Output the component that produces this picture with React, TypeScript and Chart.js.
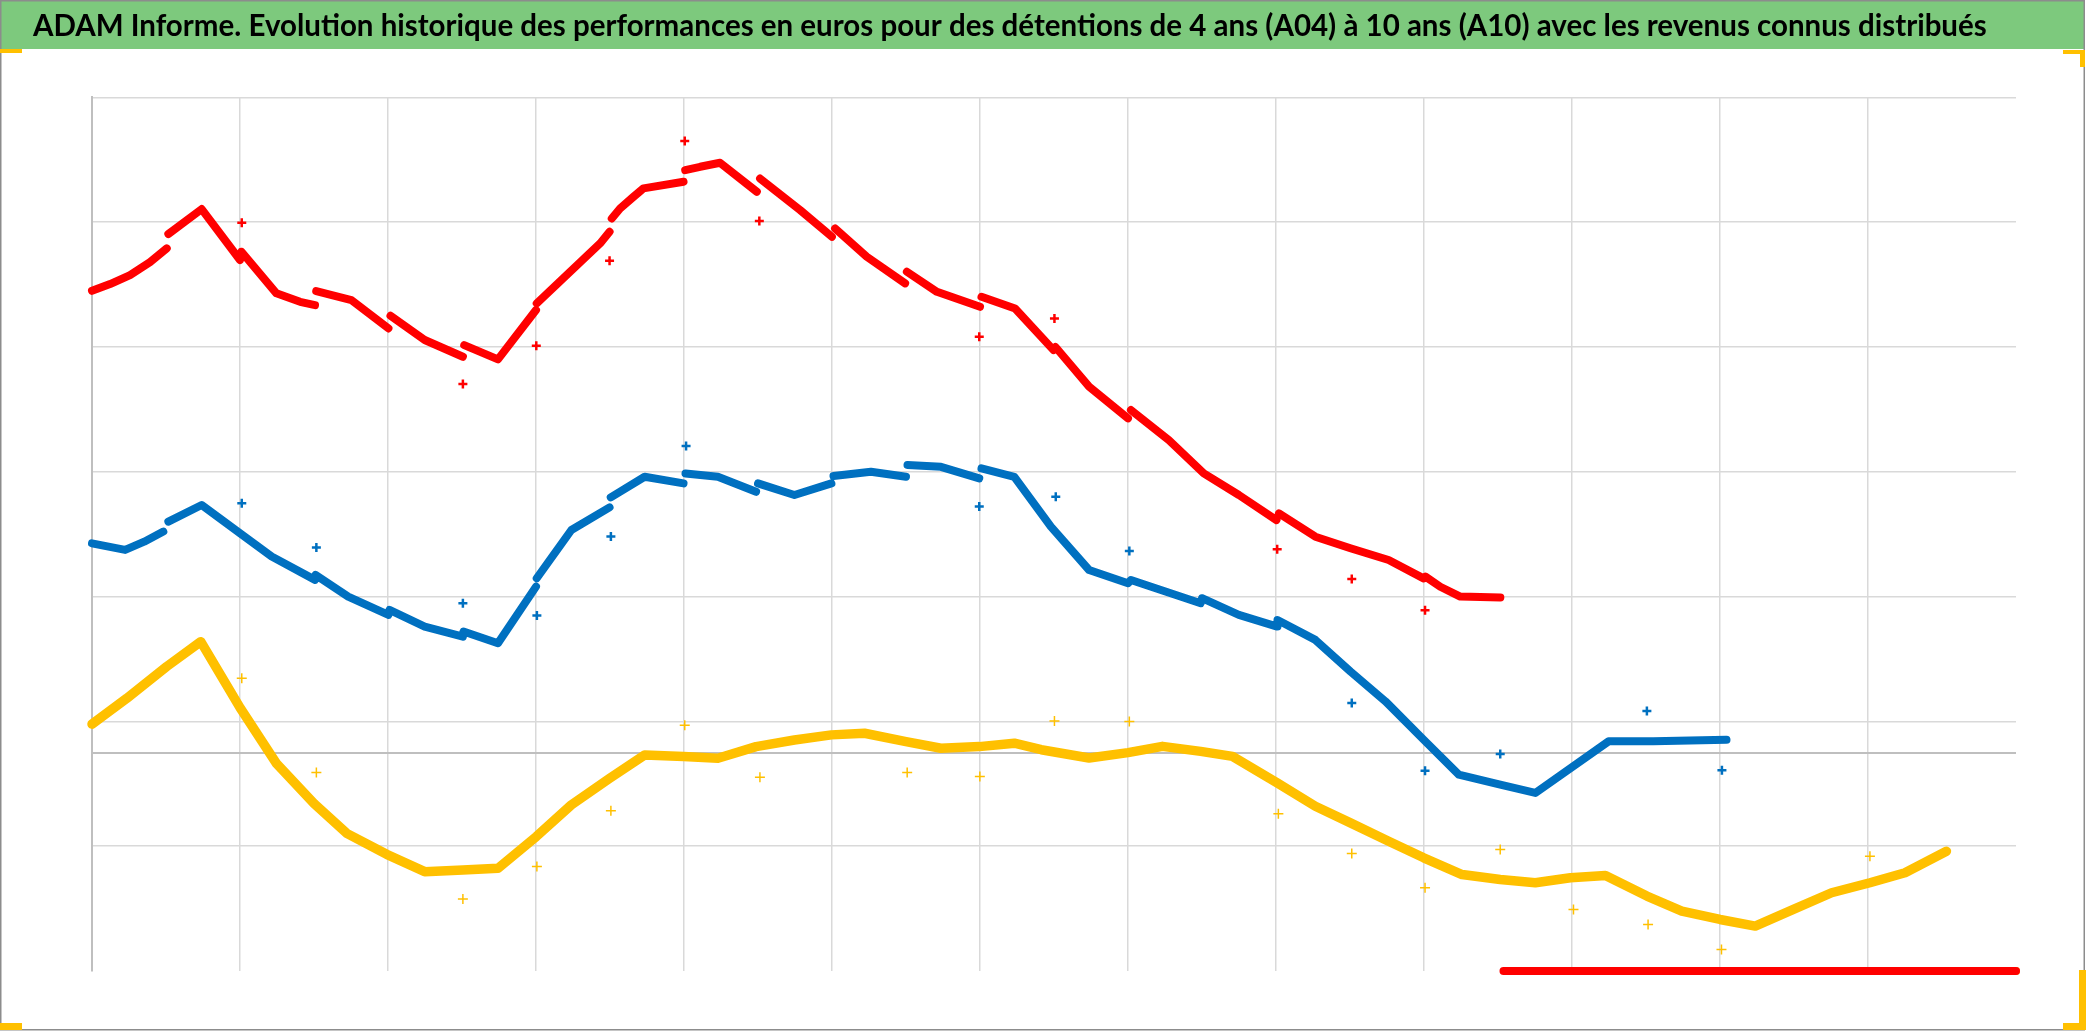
import React, { useEffect, useRef } from "react";
import { Chart, registerables } from "chart.js";

Chart.register(...registerables);

const TITLE =
  "ADAM Informe. Evolution historique des performances en euros pour des détentions de 4 ans (A04) à 10 ans (A10) avec les revenus connus distribués";

const X_MIN = 0;
const X_MAX = 13;
const Y_MIN = -1750;
const Y_MAX = 5250;
const X_GRID = [0, 1, 2, 3, 4, 5, 6, 7, 8, 9, 10, 11, 12, 13];
const Y_GRID = [-1750, -750, 0, 250, 1250, 2250, 3250, 4250, 5250];

// A10 (red) — dense daily values, null = break at a distribution date
const redLineX = [
  0, 0.122, 0.257, 0.392, 0.505, 0.51,
  0.516, 0.741, 1.0, 1.01, 1.246, 1.406, 1.507, 1.511,
  1.515, 1.753, 2.003, 2.01,
  2.017, 2.248, 2.506, 2.51,
  2.515, 2.743, 3.0, 3.002,
  3.005, 3.433, 3.497, 3.505,
  3.512, 3.568, 3.658, 3.726, 3.997, 4.0,
  4.008, 4.109, 4.244, 4.492, 4.503,
  4.514, 4.785, 4.999, 5.01,
  5.021, 5.235, 5.494, 5.5,
  5.506, 5.709, 6.0, 6.005,
  6.01, 6.237, 6.497, 6.503,
  6.51, 6.737, 7.0, 7.01,
  7.02, 7.276, 7.512, 7.749, 8.003, 8.01,
  8.02, 8.266, 8.503, 8.761, 8.997, 9.003,
  9.01, 9.11, 9.245, 9.516,
];
const redLineY = [
  3700, 3754, 3826, 3930, 4040, null,
  4155, 4355, 3947, 4013, 3680, 3612, 3586, null,
  3698, 3626, 3399, null,
  3500, 3306, 3172, null,
  3265, 3151, 3546, null,
  3600, 4080, 4173, null,
  4280, 4360, 4453, 4521, 4574, null,
  4667, 4694, 4726, 4494, null,
  4600, 4347, 4133, null,
  4200, 3973, 3760, null,
  3853, 3692, 3572, null,
  3652, 3559, 3225, null,
  3250, 2932, 2678, null,
  2745, 2504, 2237, 2064, 1863, null,
  1917, 1730, 1637, 1543, 1396, null,
  1410, 1329, 1250, 1243,
];
const redFloorX = [9.537, 13.0];
const redFloorY = [-1750, -1750];
const redPtsX = [1.012, 2.506, 3.002, 3.497, 4.005, 4.509, 5.995, 6.503, 8.008, 8.512, 9.007];
const redPtsY = [4246, 2953, 3260, 3941, 4900, 4259, 3332, 3479, 1629, 1391, 1141];

// A07 (blue)
const blueLineX = [
  0, 0.224, 0.353, 0.482, 0.5,
  0.516, 0.741, 1.0, 1.214, 1.507, 1.508,
  1.51, 1.731, 2.003, 2.006,
  2.01, 2.248, 2.506, 2.508,
  2.51, 2.743, 3.0, 3.003,
  3.005, 3.239, 3.497, 3.5,
  3.505, 3.734, 3.997, 4.003,
  4.01, 4.229, 4.487, 4.493,
  4.5, 4.746, 4.996, 5.003,
  5.01, 5.263, 5.5, 5.505,
  5.51, 5.736, 5.995, 6.003,
  6.01, 6.232, 6.479, 6.737, 7.0, 7.02, 7.491, 7.5, 7.749, 8.008, 8.01, 8.266,
  8.503, 8.74, 8.998, 9.235, 9.515, 9.752, 10.247, 10.549, 11.044,
];
const blueLineY = [
  1677, 1624, 1690, 1771, null,
  1851, 1984, 1757, 1571, 1384, null,
  1424, 1250, 1103, null,
  1143, 1010, 929, null,
  970, 876, 1330, null,
  1397, 1784, 1965, null,
  2045, 2210, 2157, null,
  2237, 2210, 2090, null,
  2157, 2064, 2157, null,
  2216, 2250, 2210, null,
  2304, 2290, 2197, null,
  2277, 2210, 1810, 1463, 1357, 1383, 1197, 1237, 1103, 1010, 1063, 903,
  650, 410, 103, -177, -257, -323, 90, 90, 103,
];
const bluePtsX = [1.012, 1.516, 2.506, 3.006, 3.506, 4.014, 5.995, 6.512, 7.009, 8.512, 9.007, 9.515, 10.506, 11.013];
const bluePtsY = [1998, 1643, 1197, 1098, 1731, 2456, 1971, 2050, 1615, 397, -145, -11, 333, -142];

// A04 (yellow)
const yellowLineX = [
  0, 0.234, 0.505, 0.735, 1.0, 1.248, 1.5, 1.721, 1.991, 2.248, 2.506, 2.743, 3.002,
  3.239, 3.497, 3.734, 3.997, 4.229, 4.487, 4.746, 4.996, 5.22, 5.5, 5.736, 5.995,
  6.232, 6.414, 6.737, 7.0, 7.233, 7.491, 7.706, 8.008, 8.266, 8.503, 8.761, 8.998,
  9.257, 9.515, 9.752, 9.989, 10.226, 10.506, 10.742, 11.0, 11.238, 11.496, 11.754,
  12.013, 12.25, 12.53,
];
const yellowLineY = [
  228, 434, 690, 889, 360, -90, -407, -647, -815, -954, -940, -927, -673,
  -419, -206, -19, -32, -45, 48, 101, 142, 155, 88, 35, 48,
  75, 23, -43, 0, 50, 10, -30, -243, -430, -563, -710, -843,
  -977, -1017, -1043, -1003, -985, -1150, -1270, -1337, -1390, -1257, -1123,
  -1043, -963, -790,
];
const yellowFloorX = [12.53, 13.0];
const yellowFloorY = [-1750, -1750];
const yellowPtsX = [1.012, 1.516, 2.506, 3.006, 3.506, 4.005, 4.513, 5.508, 5.999, 6.503, 7.009, 8.016, 8.512, 9.007, 9.515, 10.01, 10.514, 11.01, 12.013];
const yellowPtsY = [596, -160, -1173, -913, -465, 219, -198, -160, -192, 254, 250, -489, -809, -1083, -777, -1257, -1377, -1577, -830];

const RED = "#FF0000";
const BLUE = "#0070C0";
const YELLOW = "#FFC000";
const GREEN = "#7DC97D";
const GRID = "#D9D9D9";
const AXIS = "#BFBFBF";

function zip(xs: number[], ys: (number | null)[]) {
  return xs.map((x, i) => ({ x, y: ys[i] }));
}

function lineSet(xs: number[], ys: (number | null)[], color: string, width: number, clip: any = 8) {
  return {
    data: zip(xs, ys),
    showLine: true,
    borderColor: color,
    backgroundColor: color,
    borderWidth: width,
    pointRadius: 0,
    pointHoverRadius: 0,
    tension: 0,
    spanGaps: false,
    borderCapStyle: "round",
    borderJoinStyle: "round",
    clip,
  };
}

function pointSet(xs: number[], ys: number[], color: string, radius: number, width: number) {
  return {
    data: zip(xs, ys),
    showLine: false,
    pointStyle: "cross",
    pointRadius: radius,
    pointHoverRadius: radius,
    pointBorderWidth: width,
    borderColor: color,
    backgroundColor: color,
    clip: 10,
  };
}

const decorations = {
  id: "decorations",
  beforeDraw(chart: any) {
    const { ctx, width, height } = chart;
    ctx.save();
    ctx.fillStyle = "#FFFFFF";
    ctx.fillRect(0, 0, width, height);
    ctx.fillStyle = GREEN;
    ctx.fillRect(0, 0, 2084, 49);
    ctx.restore();
  },
  afterDraw(chart: any) {
    const { ctx } = chart;
    ctx.save();
    ctx.strokeStyle = "#8C8C8C";
    ctx.lineWidth = 1.5;
    ctx.strokeRect(0.75, 0.75, 2083.5, 1029);
    ctx.fillStyle = YELLOW;
    ctx.fillRect(0, 49, 22, 4);
    ctx.fillRect(2063, 50, 22, 4);
    ctx.fillRect(2080, 50, 5, 17);
    ctx.fillRect(0, 1023, 22, 7);
    ctx.fillRect(2079, 970, 7, 60);
    ctx.fillRect(2063, 1023, 23, 7);
    ctx.restore();
  },
};

export default function App() {
  const ref = useRef<HTMLCanvasElement>(null);

  useEffect(() => {
    const canvas = ref.current;
    if (!canvas) return;
    const chart = new Chart(canvas, {
      type: "scatter",
      data: {
        datasets: [
          pointSet(redPtsX, redPtsY, RED, 4.5, 2.5),
          pointSet(bluePtsX, bluePtsY, BLUE, 4.5, 2.5),
          pointSet(yellowPtsX, yellowPtsY, YELLOW, 5, 1.5),
          lineSet(redFloorX, redFloorY, RED, 8, false),
          lineSet(yellowFloorX, yellowFloorY, YELLOW, 8, false),
          lineSet(redLineX, redLineY, RED, 8),
          lineSet(blueLineX, blueLineY, BLUE, 8),
          lineSet(yellowLineX, yellowLineY, YELLOW, 9.5),
        ] as any,
      },
      options: {
        responsive: false,
        animation: false,
        events: [],
        layout: { padding: { left: 33, right: 70, top: 0, bottom: 60 } },
        plugins: {
          legend: { display: false },
          tooltip: { enabled: false },
          title: {
            display: true,
            text: TITLE,
            align: "start",
            color: "#000000",
            font: { family: "Lato", weight: "bold", size: 29.5 },
            padding: { top: 9, bottom: 53 },
          },
        },
        scales: {
          x: {
            type: "linear",
            min: X_MIN,
            max: X_MAX,
            afterBuildTicks: (s: any) => {
              s.ticks = X_GRID.map((v) => ({ value: v }));
            },
            ticks: { display: false },
            grid: {
              drawTicks: false,
              color: (c: any) =>
                c.tick && c.tick.value === X_MAX ? "rgba(0,0,0,0)" : c.tick && c.tick.value === 0 ? AXIS : GRID,
              lineWidth: 1.5,
            },
            border: { display: false },
          },
          y: {
            type: "linear",
            min: Y_MIN,
            max: Y_MAX,
            afterBuildTicks: (s: any) => {
              s.ticks = Y_GRID.map((v) => ({ value: v }));
            },
            afterFit: (s: any) => {
              s.width = 59;
            },
            ticks: { display: false },
            grid: {
              drawTicks: false,
              color: (c: any) =>
                c.tick && c.tick.value === Y_MIN ? "rgba(0,0,0,0)" : c.tick && c.tick.value === 0 ? AXIS : GRID,
              lineWidth: (c: any) => (c.tick && c.tick.value === 0 ? 2 : 1.5),
            },
            border: { display: true, color: AXIS, width: 2 },
          },
        },
      } as any,
      plugins: [decorations],
    });
    return () => chart.destroy();
  }, []);

  return (
    <div style={{ position: "fixed", left: 0, top: 0, width: 2086, height: 1031, background: "#FFFFFF" }}>
      <canvas ref={ref} width={2086} height={1031} style={{ display: "block", width: 2086, height: 1031 }} />
    </div>
  );
}
